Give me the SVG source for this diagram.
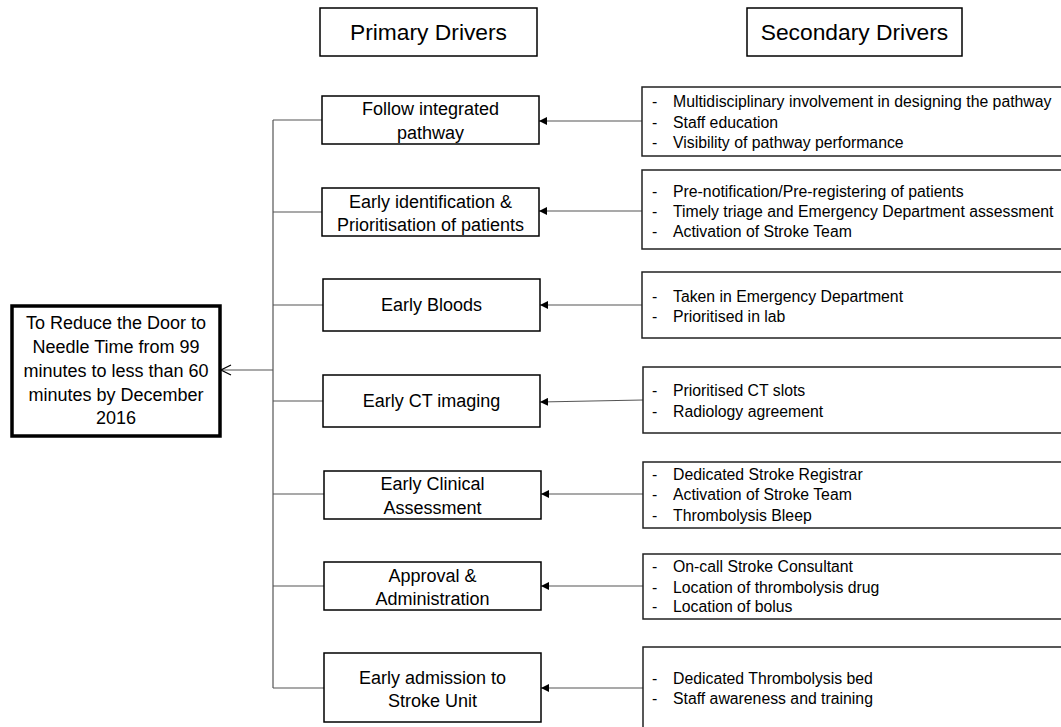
<svg xmlns="http://www.w3.org/2000/svg" width="1061" height="727" viewBox="0 0 1061 727">
<defs>
<marker id="tri" viewBox="0 0 10 10" refX="10" refY="5" markerWidth="8" markerHeight="8" markerUnits="userSpaceOnUse" orient="auto">
<path d="M0,0 L10,5 L0,10 Z" fill="#000"/>
</marker>
<marker id="open" viewBox="0 0 12 12" refX="11" refY="6" markerWidth="12" markerHeight="12" markerUnits="userSpaceOnUse" orient="auto">
<path d="M1,1 L11,6 L1,11" fill="none" stroke="#000" stroke-width="1.2"/>
</marker>
</defs>
<style>
text{font-family:"Liberation Sans",Arial,sans-serif;fill:#000}
.box{fill:#fff;stroke:#000;stroke-width:1.5}
.sbox{fill:#fff;stroke:#222;stroke-width:1.5}
.goal{fill:#fff;stroke:#000;stroke-width:3.5}
.hd{font-size:22.8px;text-anchor:middle}
.pt{font-size:18px;text-anchor:middle}
.st{font-size:15.8px}
.ln{stroke:#555;stroke-width:1.2;fill:none}
</style>
<rect width="1061" height="727" fill="#fff"/>

<g id="hdr-primary"><rect class="box" x="320" y="8" width="217" height="48"/><text class="hd" x="428.5" y="40">Primary Drivers</text></g>
<g id="hdr-secondary"><rect class="box" x="747" y="8" width="215" height="48"/><text class="hd" x="854.5" y="40">Secondary Drivers</text></g>

<g id="connectors">
<line class="ln" x1="273" y1="120" x2="273" y2="688"/>
<line class="ln" x1="273" y1="370" x2="221" y2="370" marker-end="url(#open)"/>
<line class="ln" x1="273" y1="120" x2="322" y2="120"/>
<line class="ln" x1="273" y1="212" x2="322" y2="212"/>
<line class="ln" x1="273" y1="305" x2="323" y2="305"/>
<line class="ln" x1="273" y1="401" x2="323" y2="401"/>
<line class="ln" x1="273" y1="494" x2="324" y2="494"/>
<line class="ln" x1="273" y1="586" x2="324" y2="586"/>
<line class="ln" x1="273" y1="688" x2="324" y2="688"/>
<line class="ln" x1="642" y1="121" x2="539" y2="121" marker-end="url(#tri)"/>
<line class="ln" x1="642" y1="211" x2="539" y2="211" marker-end="url(#tri)"/>
<line class="ln" x1="642" y1="305" x2="540" y2="305" marker-end="url(#tri)"/>
<line class="ln" x1="643" y1="400" x2="540" y2="402" marker-end="url(#tri)"/>
<line class="ln" x1="643" y1="494" x2="541" y2="494" marker-end="url(#tri)"/>
<line class="ln" x1="643" y1="586" x2="541" y2="586" marker-end="url(#tri)"/>
<line class="ln" x1="643" y1="688" x2="541" y2="688" marker-end="url(#tri)"/>
</g>

<g id="goal"><rect class="goal" x="12" y="306" width="208" height="130"/>
<text class="pt" x="116" y="329">To Reduce the Door to</text>
<text class="pt" x="116" y="353">Needle Time from 99</text>
<text class="pt" x="116" y="377">minutes to less than 60</text>
<text class="pt" x="116" y="401">minutes by December</text>
<text class="pt" x="116" y="424">2016</text></g>

<g id="p1"><rect class="box" x="322" y="96" width="217" height="48"/><text class="pt" x="430.5" y="115">Follow integrated</text><text class="pt" x="430.5" y="139">pathway</text></g>
<g id="p2"><rect class="box" x="322" y="188" width="217" height="48"/><text class="pt" x="430.5" y="208">Early identification &amp;</text><text class="pt" x="430.5" y="231">Prioritisation of patients</text></g>
<g id="p3"><rect class="box" x="323" y="279" width="217" height="52"/><text class="pt" x="431.5" y="311">Early Bloods</text></g>
<g id="p4"><rect class="box" x="323" y="375" width="217" height="52"/><text class="pt" x="431.5" y="407">Early CT imaging</text></g>
<g id="p5"><rect class="box" x="324" y="471" width="217" height="48"/><text class="pt" x="432.5" y="490">Early Clinical</text><text class="pt" x="432.5" y="514">Assessment</text></g>
<g id="p6"><rect class="box" x="324" y="562" width="217" height="48"/><text class="pt" x="432.5" y="582">Approval &amp;</text><text class="pt" x="432.5" y="605">Administration</text></g>
<g id="p7"><rect class="box" x="324" y="653" width="217" height="69"/><text class="pt" x="432.5" y="684">Early admission to</text><text class="pt" x="432.5" y="707">Stroke Unit</text></g>

<g id="s1"><rect class="sbox" x="642" y="87" width="430" height="69"/>
<text class="st" x="652" y="107">-</text><text class="st" x="673" y="107">Multidisciplinary involvement in designing the pathway</text>
<text class="st" x="652" y="128">-</text><text class="st" x="673" y="128">Staff education</text>
<text class="st" x="652" y="148">-</text><text class="st" x="673" y="148">Visibility of pathway performance</text></g>
<g id="s2"><rect class="sbox" x="642" y="170" width="430" height="79"/>
<text class="st" x="652" y="197">-</text><text class="st" x="673" y="197">Pre-notification/Pre-registering of patients</text>
<text class="st" x="652" y="217">-</text><text class="st" x="673" y="217">Timely triage and Emergency Department assessment</text>
<text class="st" x="652" y="237">-</text><text class="st" x="673" y="237">Activation of Stroke Team</text></g>
<g id="s3"><rect class="sbox" x="642" y="272" width="430" height="66"/>
<text class="st" x="652" y="302">-</text><text class="st" x="673" y="302">Taken in Emergency Department</text>
<text class="st" x="652" y="322">-</text><text class="st" x="673" y="322">Prioritised in lab</text></g>
<g id="s4"><rect class="sbox" x="643" y="367" width="430" height="66"/>
<text class="st" x="652" y="396">-</text><text class="st" x="673" y="396">Prioritised CT slots</text>
<text class="st" x="652" y="417">-</text><text class="st" x="673" y="417">Radiology agreement</text></g>
<g id="s5"><rect class="sbox" x="643" y="462" width="430" height="66"/>
<text class="st" x="652" y="480">-</text><text class="st" x="673" y="480">Dedicated Stroke Registrar</text>
<text class="st" x="652" y="500">-</text><text class="st" x="673" y="500">Activation of Stroke Team</text>
<text class="st" x="652" y="521">-</text><text class="st" x="673" y="521">Thrombolysis Bleep</text></g>
<g id="s6"><rect class="sbox" x="643" y="554" width="430" height="65"/>
<text class="st" x="652" y="572">-</text><text class="st" x="673" y="572">On-call Stroke Consultant</text>
<text class="st" x="652" y="593">-</text><text class="st" x="673" y="593">Location of thrombolysis drug</text>
<text class="st" x="652" y="612">-</text><text class="st" x="673" y="612">Location of bolus</text></g>
<g id="s7"><rect class="sbox" x="643" y="647" width="430" height="95"/>
<text class="st" x="652" y="684">-</text><text class="st" x="673" y="684">Dedicated Thrombolysis bed</text>
<text class="st" x="652" y="704">-</text><text class="st" x="673" y="704">Staff awareness and training</text></g>
</svg>
